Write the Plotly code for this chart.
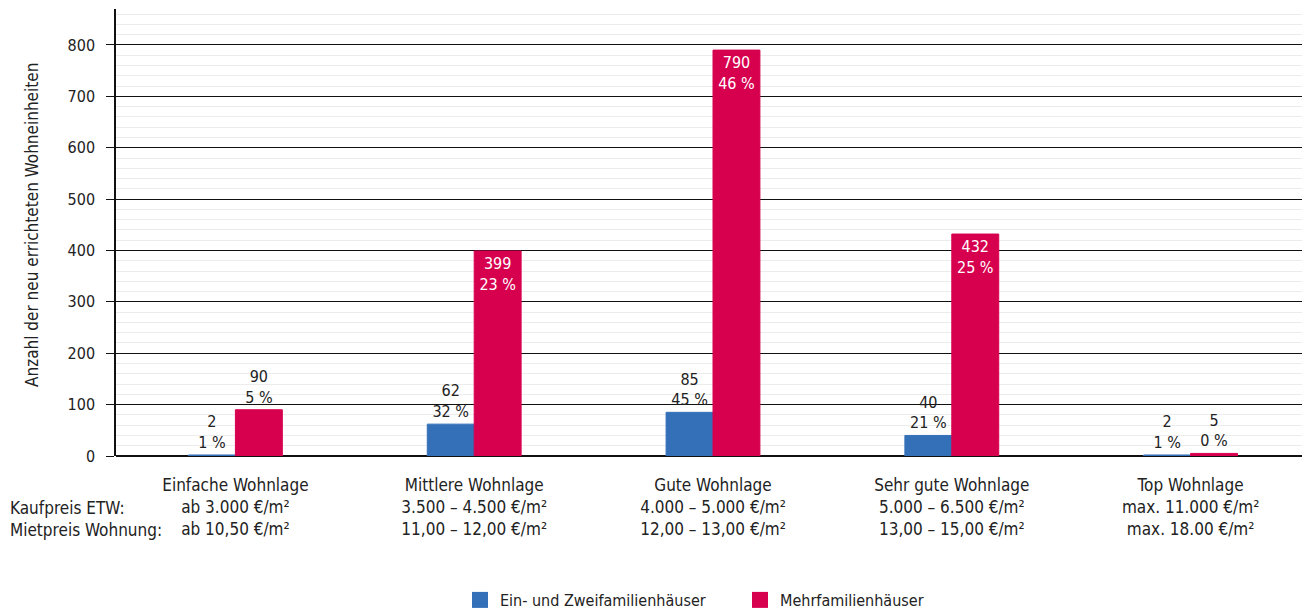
import plotly.graph_objects as go

categories = ["Einfache Wohnlage", "Mittlere Wohnlage", "Gute Wohnlage", "Sehr gute Wohnlage", "Top Wohnlage"]
kaufpreis = ["ab 3.000 €/m²", "3.500 – 4.500 €/m²", "4.000 – 5.000 €/m²", "5.000 – 6.500 €/m²", "max. 11.000 €/m²"]
mietpreis = ["ab 10,50 €/m²", "11,00 – 12,00 €/m²", "12,00 – 13,00 €/m²", "13,00 – 15,00 €/m²", "max. 18.00 €/m²"]
ezfh_values = [2, 62, 85, 40, 2]
ezfh_pct = [1, 32, 45, 21, 1]
mfh_values = [90, 399, 790, 432, 5]
mfh_pct = [5, 23, 46, 25, 0]
y_ticks = [0, 100, 200, 300, 400, 500, 600, 700, 800]
series_names = ["Ein- und Zweifamilienhäuser", "Mehrfamilienhäuser"]
y_title = "Anzahl der neu errichteten Wohneinheiten"

FONT = "DejaVu Sans Condensed, Roboto Condensed, Roboto, sans-serif"
BLUE = "#3470b8"
RED = "#d7004f"
TXT = "#222222"

# page has an 8px body margin, so the figure is drawn 8px smaller
OFF = 8
W, H = 1310 - OFF, 611 - OFF
L, T, B = 116 - OFF, 10 - OFF - 1, 155
plot_h = H - T - B
plot_w = W - L
zero_px = H - B  # figure px of the zero line


def px_x(page_x):
    return (page_x - OFF - L) / plot_w


def px_y(page_y):
    return (zero_px - (page_y - OFF)) / plot_h


ticktext = [f"{c}<br>{k}<br>{m}" for c, k, m in zip(categories, kaufpreis, mietpreis)]

fig = go.Figure()
fig.add_trace(go.Bar(
    x=categories, y=ezfh_values, name=series_names[0],
    marker=dict(color=BLUE, line=dict(color=BLUE, width=1)), showlegend=False,
    text=[f"{v}<br>{p} %" for v, p in zip(ezfh_values, ezfh_pct)],
    textposition="outside", textfont=dict(color=TXT, size=16, family=FONT),
    cliponaxis=False,
))
red_pos = ["outside" if v < 200 else "inside" for v in mfh_values]
fig.add_trace(go.Bar(
    x=categories, y=mfh_values, name=series_names[1],
    marker=dict(color=RED, line=dict(color=RED, width=1)), showlegend=False,
    text=[f"{v}<br>{p} %" for v, p in zip(mfh_values, mfh_pct)],
    textposition=red_pos, insidetextanchor="end",
    insidetextfont=dict(color="white", size=16, family=FONT),
    outsidetextfont=dict(color=TXT, size=16, family=FONT),
    textangle=0, constraintext="none",
    cliponaxis=False,
))
# legend proxies (large square swatches)
for name, col in zip(series_names, [BLUE, RED]):
    fig.add_trace(go.Scatter(x=[None], y=[None], mode="markers", name=name,
                             marker=dict(symbol="square", size=21, color=col)))

fig.update_layout(
    width=W, height=H,
    margin=dict(l=L, r=0, t=T, b=B, autoexpand=False),
    plot_bgcolor="white", paper_bgcolor="white",
    font=dict(family=FONT, size=16, color=TXT),
    barmode="group", bargap=0.607, bargroupgap=0,
    legend=dict(orientation="h", x=px_x(460), xanchor="left", y=px_y(600), yanchor="middle",
                font=dict(size=16, family=FONT), entrywidth=235, entrywidthmode="pixels",
                traceorder="normal", itemwidth=30),
    showlegend=True,
)
fig.update_xaxes(
    tickmode="array", tickvals=categories, ticktext=ticktext,
    showgrid=False, showline=False, ticks="", tickfont=dict(size=17, family=FONT),
    ticklabelstandoff=17, automargin=False,
)
fig.update_yaxes(
    range=[0, 870], tickmode="array", tickvals=y_ticks,
    showgrid=True, gridcolor="#111111", gridwidth=1,
    minor=dict(dtick=20, showgrid=True, gridcolor="#ececec", gridwidth=1),
    zeroline=True, zerolinecolor="#111111", zerolinewidth=1.5,
    showline=True, linecolor="#111111", linewidth=1.5,
    ticks="outside", ticklen=8, tickcolor="#111111",
    tickfont=dict(size=16, family=FONT), automargin=False, ticklabelstandoff=8,
)

fig.add_annotation(text=y_title, xref="paper", yref="paper", x=px_x(32), y=px_y(225),
                   textangle=-90, xanchor="center", yanchor="middle", showarrow=False,
                   font=dict(size=17, family=FONT))
fig.add_annotation(text="Kaufpreis ETW:", xref="paper", yref="paper", x=px_x(8), y=px_y(508),
                   xanchor="left", yanchor="middle", showarrow=False, font=dict(size=17, family=FONT))
fig.add_annotation(text="Mietpreis Wohnung:", xref="paper", yref="paper", x=px_x(8), y=px_y(530),
                   xanchor="left", yanchor="middle", showarrow=False, font=dict(size=17, family=FONT))

fig.write_html("out.html")
